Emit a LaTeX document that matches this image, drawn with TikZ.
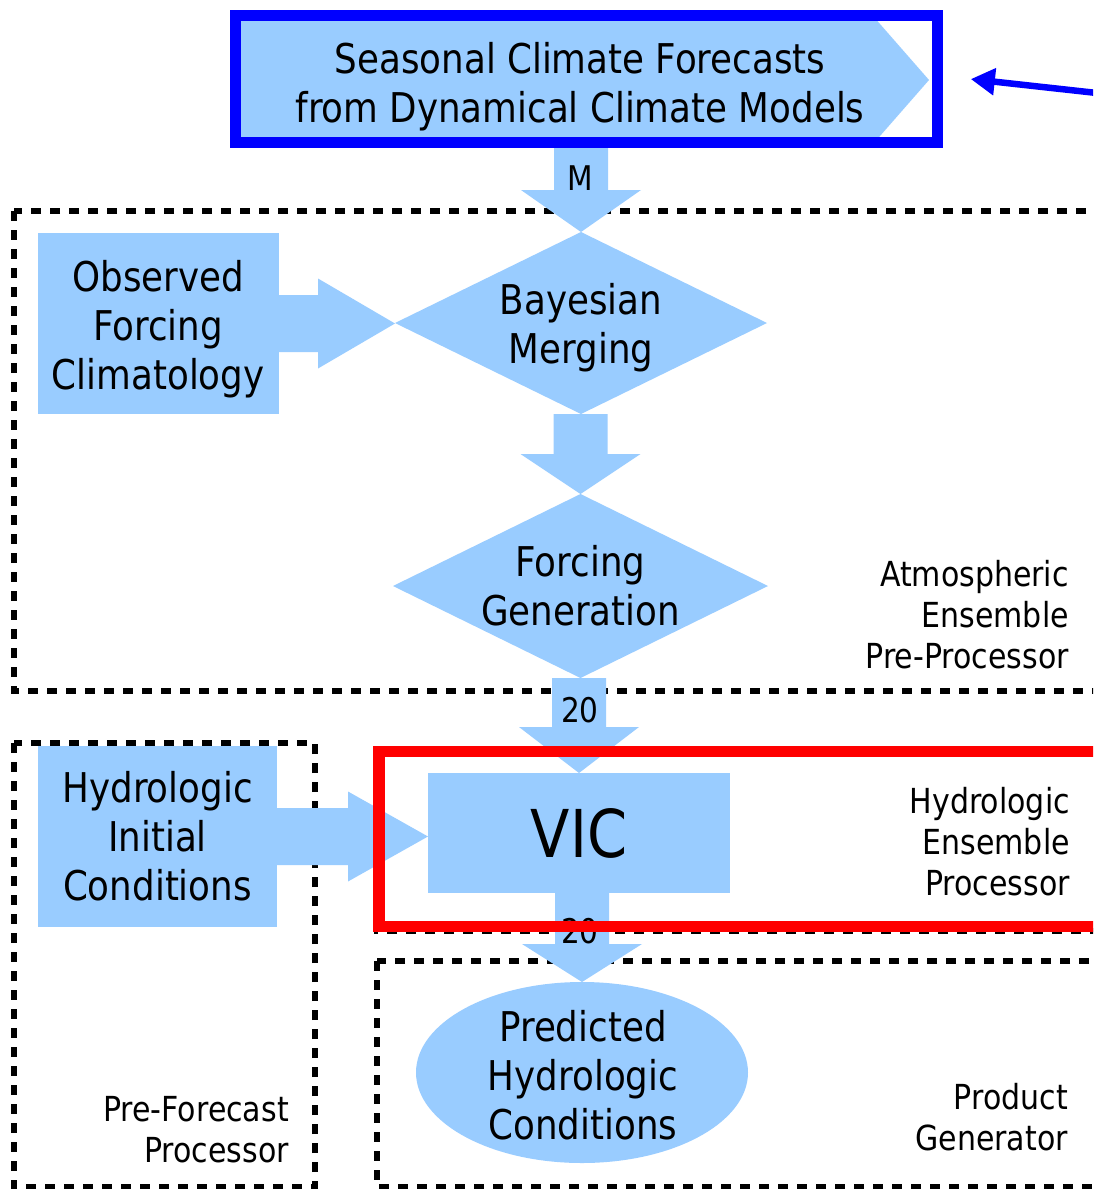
\documentclass[tikz,border=0pt]{standalone}
\usepackage{fontspec}
\setmainfont{DejaVu Sans}[FakeStretch=0.87]
\usetikzlibrary{calc,shapes.geometric,arrows.meta}
\definecolor{lb}{RGB}{153,204,255}
\newcommand\fbig{\fontsize{41}{49}\selectfont}
\newcommand\fsml{\fontsize{34.5}{41}\selectfont}
\newcommand\fnum{\fontsize{34}{36}\selectfont}
\newcommand\fvic{\fontsize{66}{70}\selectfont}
% vertical fat arrow: start, end (tip), head length
\newcommand\vfat[3]{\fill[fat] ($(#2|-#1)+(-27,0)$) -- ($(#2)+(-27,-#3)$) -- ($(#2)+(-60,-#3)$) -- (#2) -- ($(#2)+(60,-#3)$) -- ($(#2)+(27,-#3)$) -- ($(#2|-#1)+(27,0)$) -- cycle;}
% horizontal fat arrow: start, end (tip), head length
\newcommand\hfat[3]{\fill[fat] ($(#1)+(0,-28.5)$) -- ($(#2|-#1)+(-#3,-28.5)$) -- ($(#2|-#1)+(-#3,-45)$) -- (#2|-#1) -- ($(#2|-#1)+(-#3,45)$) -- ($(#2|-#1)+(-#3,28.5)$) -- ($(#1)+(0,28.5)$) -- cycle;}
\begin{document}
\begin{tikzpicture}[x=1pt,y=-1pt,
  fat/.style={fill=lb,draw=none},
  blk/.style={fill=lb,draw=none,inner sep=0pt,outer sep=0pt,align=center,font=\fbig},
  txt/.style={inner sep=0pt,outer sep=0pt,align=center,font=\fbig},
  dbox/.style={draw=black,line width=5.5pt,dash pattern=on 10pt off 9pt},
  lab/.style={anchor=east,align=right,inner sep=0pt,font=\fsml},
  num/.style={inner sep=0pt,font=\fnum}]
\useasboundingbox (0,0) rectangle (1093,1189);
\clip (0,0) rectangle (1093,1189);
\fill[white] (0,0) rectangle (1093,1189);

% dashed group boxes
\draw[dbox] (14,211) rectangle (1115,691);
\draw[dbox] (377,751) rectangle (1115,931);
\draw[dbox] (14,743) rectangle (315,1187);
\draw[dbox] (377,961) rectangle (1115,1187);

% top forecast box (pentagon)
\fill[fat] (236,16) -- (873,16) -- (929,80) -- (873,144) -- (236,144) -- cycle;
\node[draw=blue,line width=11pt,minimum width=702pt,minimum height=127pt,inner sep=0pt] (topbox) at (586.5,79) {};
\node[txt] (seatxt) at (580,87) {Seasonal Climate Forecasts\\from Dynamical Climate Models};

% main shapes
\node[blk,minimum width=241pt,minimum height=181pt] (obs) at (158.2,323.5) {};
\node[txt] (obstxt) at (158.2,329) {Observed\\Forcing\\Climatology};
\node[blk,diamond,shape aspect=2.04,minimum width=372pt,minimum height=182pt] (bay) at (581,323) {};
\node[txt] (baytxt) at (581,328) {Bayesian\\Merging};
\node[blk,diamond,shape aspect=2.04,minimum width=375pt,minimum height=184pt] (forc) at (580.5,586) {Forcing\\Generation};
\node[blk,minimum width=239pt,minimum height=181pt] (hic) at (157.5,836.5) {Hydrologic\\Initial\\Conditions};
\node[blk,minimum width=302pt,minimum height=120pt,font=\fvic] (vic) at (579,833) {VIC};
\node[blk,ellipse,minimum width=332pt,minimum height=181pt] (pred) at (582,1072.5) {};
\node[txt] (predtxt) at (583,1075) {Predicted\\Hydrologic\\Conditions};

% fat arrows
\vfat{topbox.south}{bay.north}{42}
\hfat{obs.east}{bay.west}{77}
\vfat{bay.south}{forc.north}{40}
\vfat{forc.south}{vic.north}{46}
\hfat{hic.east}{vic.west}{80}
\vfat{vic.south}{pred.north}{38}

% arrow labels
\node[num] (mlab) at (580,178) {M};
\node[num] (n20a) at (580,710) {20};
\node[num] (n20b) at (580,931) {20};

% group labels
\node[lab] (atm) at (1069,615) {Atmospheric\\Ensemble\\Pre-Processor};
\node[lab] (hep) at (1070,842) {Hydrologic\\Ensemble\\Processor};
\node[lab] (pg) at (1068,1117.5) {Product\\Generator};
\node[lab] (pfp) at (289,1129.5) {Pre-Forecast\\Processor};

% highlight rectangles
\draw[red,line width=11.5pt] (379,751.5) rectangle (1115,926.5);
\coordinate (bluefrom) at (1115,95);
\draw[blue,line width=6.5pt,-{Triangle[length=24pt,width=26pt]},shorten >=28pt] (bluefrom) -- ($(topbox.east)+(0,-3)$);
\end{tikzpicture}
\end{document}
